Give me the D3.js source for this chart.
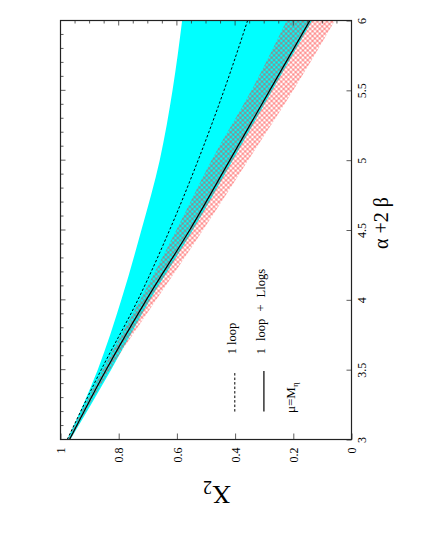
<!DOCTYPE html>
<html><head><meta charset="utf-8">
<script src="https://cdn.jsdelivr.net/npm/d3@7"></script>
<style>
body{margin:0;background:#fff}
svg{display:block}
text{font-family:"Liberation Serif","Times New Roman",serif;fill:#000}
</style>
</head><body>
<svg id="c" width="425" height="550"></svg>
<script>
// ---- data (x = alpha+2beta, values = X2) ----
const alphaBeta  = [3, 3.5, 4, 4.5, 5, 5.5, 6];
const cyanUpper  = [0.977, 0.872, 0.791, 0.722, 0.659, 0.615, 0.582];
const cyanLower  = [0.966, 0.826, 0.692, 0.545, 0.408, 0.272, 0.135];
const hatchUpper = [0.975, 0.855, 0.726, 0.602, 0.481, 0.344, 0.223];
const hatchLower = [0.966, 0.830, 0.671, 0.510, 0.355, 0.200, 0.057];
const oneLoop    = [0.977, 0.860, 0.734, 0.625, 0.527, 0.438, 0.357];
const oneLoopLL  = [0.969, 0.843, 0.705, 0.556, 0.418, 0.281, 0.143];

const x2Ticks = [0, 0.2, 0.4, 0.6, 0.8, 1];
const x2TickLabels = ["0", "0.2", "0.4", "0.6", "0.8", "1"];
const abTicks = [3, 3.5, 4, 4.5, 5, 5.5, 6];
const abTickLabels = ["3", "3.5", "4", "4.5", "5", "5.5", "6"];
const legendLabels = ["1 loop", "1 loop + Llogs"];

// ---- layout ----
const L = 60.5, R = 351.5, T = 20.5, B = 439.5;
const svg = d3.select("#c");
const xS = d3.scaleLinear().domain([1, 0]).range([L, R]);   // X2
const yS = d3.scaleLinear().domain([3, 6]).range([B, T]);   // alpha+2beta

const defs = svg.append("defs");
defs.append("clipPath").attr("id", "clip").append("rect")
  .attr("x", L).attr("y", T).attr("width", R - L).attr("height", B - T);
const pat = defs.append("pattern").attr("id", "hatch")
  .attr("patternUnits", "userSpaceOnUse").attr("width", 3.4).attr("height", 3.4)
  .attr("patternTransform", "rotate(45)");
pat.append("line").attr("x1", 1.7).attr("y1", 0).attr("x2", 1.7).attr("y2", 3.4)
  .attr("stroke", "#ff2a2a").attr("stroke-width", 0.7).attr("stroke-opacity", 0.75);
pat.append("line").attr("x1", 0).attr("y1", 1.7).attr("x2", 3.4).attr("y2", 1.7)
  .attr("stroke", "#ff2a2a").attr("stroke-width", 0.7).attr("stroke-opacity", 0.75);

const band = (lo, hi) => alphaBeta.map((v, i) => ({v, a: hi[i], b: lo[i]}));
const area = d3.area().y(d => yS(d.v)).x0(d => xS(d.a)).x1(d => xS(d.b)).curve(d3.curveMonotoneY);
const line = d3.line().y(d => yS(d.v)).x(d => xS(d.x)).curve(d3.curveMonotoneY);
const series = arr => alphaBeta.map((v, i) => ({v, x: arr[i]}));

const g = svg.append("g").attr("clip-path", "url(#clip)");
g.append("path").datum(band(cyanLower, cyanUpper)).attr("d", area).attr("fill", "#00ffff");
g.append("path").datum(band(hatchLower, hatchUpper)).attr("d", area).attr("fill", "url(#hatch)");
g.append("path").datum(series(oneLoop)).attr("d", line).attr("fill", "none")
  .attr("stroke", "#000").attr("stroke-width", 1).attr("stroke-dasharray", "2.5,2");
g.append("path").datum(series(oneLoopLL)).attr("d", line).attr("fill", "none")
  .attr("stroke", "#000").attr("stroke-width", 1.2);

// ---- minor ticks on top and left ----
const topTicks = d3.range(0, 1.0001, 0.05);
svg.append("g").selectAll("line").data(topTicks).join("line")
  .attr("x1", d => xS(d)).attr("x2", d => xS(d)).attr("y1", T)
  .attr("y2", d => T + (Math.abs(d * 5 - Math.round(d * 5)) < 1e-6 ? 5 : 3))
  .attr("stroke", "#333").attr("stroke-width", 0.8);
const leftTicks = d3.range(3, 6.0001, 0.1);
svg.append("g").selectAll("line").data(leftTicks).join("line")
  .attr("y1", d => yS(d)).attr("y2", d => yS(d)).attr("x1", L)
  .attr("x2", d => L + (Math.abs(d * 2 - Math.round(d * 2)) < 1e-6 ? 5 : 3))
  .attr("stroke", "#333").attr("stroke-width", 0.8);

// ---- bottom axis (X2) ----
const ax = svg.append("g").attr("transform", `translate(0,${B})`)
  .call(d3.axisBottom(xS).tickValues(x2Ticks).tickFormat((d, i) => x2TickLabels[i])
    .tickSizeInner(-6).tickSizeOuter(0));
ax.select(".domain").remove();
ax.selectAll(".tick line").attr("stroke", "#333").attr("stroke-width", 0.8);
ax.selectAll(".tick text").attr("x", 0).attr("y", 0).attr("dy", "0.35em")
  .attr("text-anchor", "end").attr("transform", "translate(0,8) rotate(-90)")
  .style("font-size", "12px").style("font-family", '"Liberation Serif",serif');

// ---- right axis (alpha+2beta) ----
const ay = svg.append("g").attr("transform", `translate(${R},0)`)
  .call(d3.axisRight(yS).tickValues(abTicks).tickFormat((d, i) => abTickLabels[i])
    .tickSizeInner(-5).tickSizeOuter(0));
ay.select(".domain").remove();
ay.selectAll(".tick line").attr("stroke", "#333").attr("stroke-width", 0.8);
ay.selectAll(".tick text").attr("x", 0).attr("y", 0).attr("dy", 0)
  .attr("text-anchor", "middle").attr("transform", "translate(14.5,0) rotate(-90)")
  .style("font-size", "12px").style("font-family", '"Liberation Serif",serif');

// ---- frame ----
svg.append("rect").attr("x", L).attr("y", T).attr("width", R - L).attr("height", B - T)
  .attr("fill", "none").attr("stroke", "#222").attr("stroke-width", 1.2);

// ---- axis titles ----
const xt = svg.append("text").attr("transform", "translate(217,486) rotate(180)")
  .attr("text-anchor", "middle").style("font-size", "26px");
xt.append("tspan").text("X");
xt.append("tspan").attr("dy", "0.3em").style("font-size", "18px").text("2");

svg.append("text").attr("transform", "translate(388,223) rotate(-90)")
  .attr("text-anchor", "middle").style("font-size", "20px").text("α +2 β");

// ---- legend ----
const legX2 = [0.401, 0.301];
const legDash = ["2.5,2", null];
const legWordSpacing = [0, 4];
legX2.forEach((x2, i) => {
  svg.append("line").attr("x1", xS(x2)).attr("x2", xS(x2))
    .attr("y1", yS(3.2)).attr("y2", yS(3.49))
    .attr("stroke", "#000").attr("stroke-width", i ? 1.2 : 1)
    .attr("stroke-dasharray", legDash[i]);
  svg.append("text")
    .attr("transform", `translate(${xS(x2) - 3},${yS(3.61)}) rotate(-90)`)
    .attr("dy", "0.35em").attr("text-anchor", "start").style("font-size", "12.5px")
    .style("word-spacing", legWordSpacing[i] + "px")
    .text(legendLabels[i]);
});
const mu = svg.append("text").attr("transform", `translate(${xS(0.21) + 5},${yS(3.19)}) rotate(-90)`)
  .attr("text-anchor", "start").style("font-size", "13px");
mu.append("tspan").text("μ=M");
mu.append("tspan").attr("dy", "0.3em").style("font-size", "9px").text("η");
</script>
</body></html>
